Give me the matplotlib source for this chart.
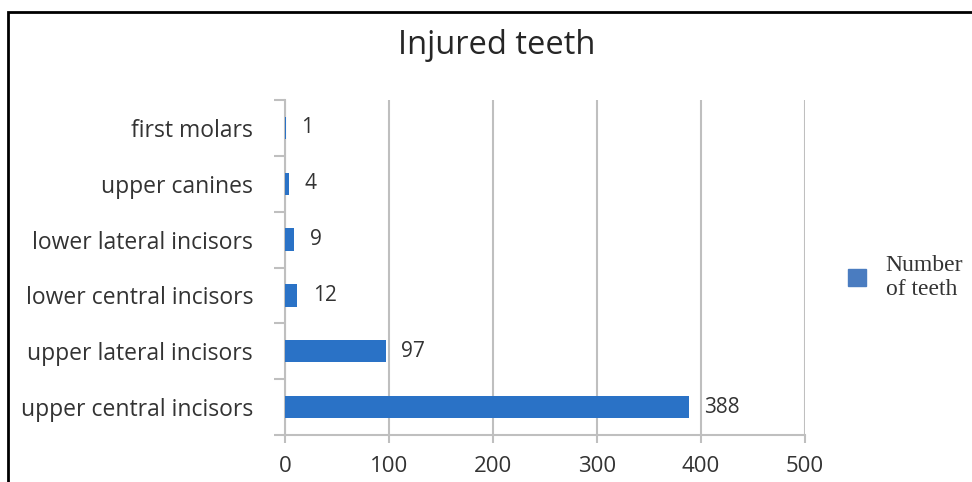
import numpy as np
import matplotlib
matplotlib.use("Agg")
import matplotlib.pyplot as plt
from matplotlib.patches import Rectangle

# injured teeth counts, top to bottom as in the chart
categories = ["first molars", "upper canines", "lower lateral incisors",
              "lower central incisors", "upper lateral incisors",
              "upper central incisors"]
counts = [1, 4, 9, 12, 97, 388]
xticks = [0, 100, 200, 300, 400, 500]

plt.rcParams['font.family'] = ['Open Sans', 'DejaVu Sans']

fig = plt.figure(figsize=(9.72, 4.82), dpi=100)
ax = fig.add_axes([285/972, 1-435/482, 520/972, 335/482])

bar_col = "#2a72c6"
grid_col = "#bfbfbf"
text_col = "#333333"

# reverse so that first category is on top
ypos = np.arange(len(categories))[::-1]
ax.barh(ypos, counts, height=0.4, color=bar_col, zorder=3, label="Number\nof teeth")

for y, v in zip(ypos, counts):
    ax.annotate(str(v), (v, y), xytext=(11, 0), textcoords="offset points",
                va="center", ha="left", fontsize=15, color=text_col)

ax.set_xlim(0, 500)
ax.set_ylim(-0.5, len(categories) - 0.5)
ax.set_xticks(xticks)
ax.set_xticklabels([str(t) for t in xticks], fontsize=16, color=text_col)

# category labels at centers, ticks at the boundaries
ax.set_yticks(ypos)
ax.set_yticklabels(categories, fontsize=16.5, color=text_col)
ax.set_yticks(np.arange(-0.5, len(categories)), minor=True)
ax.tick_params(axis="y", which="major", length=0, pad=23)
ax.tick_params(axis="y", which="minor", length=8, color=grid_col, width=1.5)
ax.tick_params(axis="x", which="major", length=6, color=grid_col, width=1.5, pad=9)

ax.xaxis.grid(True, color=grid_col, linewidth=1.5, zorder=0)
ax.set_axisbelow(True)
for s in ["top", "right"]:
    ax.spines[s].set_visible(False)
for s in ["left", "bottom"]:
    ax.spines[s].set_color(grid_col)
    ax.spines[s].set_linewidth(1.5)

leg = ax.legend(loc="center left", bbox_to_anchor=((848-285)/520, 0.47), frameon=False,
                prop={"family": ["Liberation Serif", "DejaVu Serif"], "size": 17},
                handlelength=0.75, handleheight=0.75, handletextpad=0.85,
                borderpad=0, borderaxespad=0)
for h in leg.legend_handles:
    h.set_color("#4a7cc0")
for t in leg.get_texts():
    t.set_color(text_col)
    t.set_linespacing(1.2)

fig.text(497/972, 1-45/482, "Injured teeth", ha="center", va="center",
         fontsize=23.5, color="#262626")

# outer frame of the original screenshot
fig.patches.append(Rectangle((8/972, -0.1), 1.2, 1-12/482+0.1,
                             transform=fig.transFigure, fill=False,
                             edgecolor="black", linewidth=2, clip_on=False))

fig.savefig("out.png", dpi=100)
